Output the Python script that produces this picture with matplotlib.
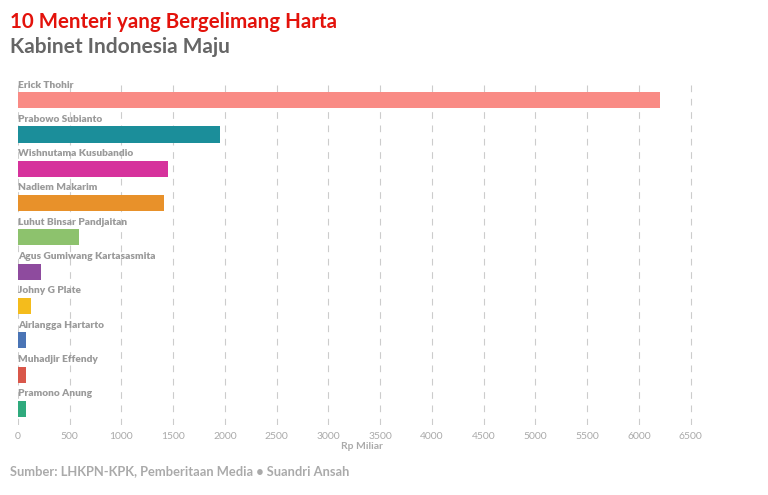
import matplotlib.pyplot as plt

names = ['Erick Thohir', 'Prabowo Subianto', 'Wishnutama Kusubandio', 'Nadiem Makarim',
         'Luhut Binsar Pandjaitan', 'Agus Gumiwang Kartasasmita', 'Johny G Plate',
         'Airlangga Hartarto', 'Muhadjir Effendy', 'Pramono Anung']
values = [6200, 1952, 1449, 1410, 589, 219, 126, 80, 80, 74]
colors = ['#F98B85', '#1B8E9A', '#D6329C', '#E8912A', '#8DC26D',
          '#8E4B9E', '#F4BC1C', '#4A74B5', '#D9574A', '#2FAA7D']
ticks = list(range(0, 7000, 500))

plt.rcParams['font.family'] = ['Lato', 'DejaVu Sans']

fig = plt.figure(figsize=(7.68, 4.95), dpi=100)
ax = fig.add_axes([0.0234, 0.1414, 0.896, 0.6965])

ypos = list(range(len(names)))
ax.barh(ypos, values, height=0.47, color=colors, zorder=2)
for y, n in zip(ypos, names):
    ax.text(0, y - 0.44, n, fontsize=7.3, fontweight='heavy', color='#9a9a9a',
            va='center', ha='left', zorder=3)

ax.set_ylim(9.47, -0.58)
ax.set_xlim(0, 6650)
ax.set_xticks(ticks)
ax.set_xticklabels([str(t) for t in ticks])
ax.tick_params(axis='x', length=0, labelsize=7.5, labelcolor='#aaaaaa', pad=5)
ax.set_yticks([])
for s in ax.spines.values():
    s.set_visible(False)
ax.grid(axis='x', color='#cccccc', linestyle=(0, (6, 6)), linewidth=0.8, zorder=0)
ax.set_xlabel('Rp Miliar', fontsize=7.5, color='#aaaaaa', fontweight='bold', labelpad=1)

fig.text(0.013, 0.956, '10 Menteri yang Bergelimang Harta', fontsize=14.8, fontweight='bold',
         color='#E3120B', va='center')
fig.text(0.013, 0.905, 'Kabinet Indonesia Maju', fontsize=15, fontweight='bold',
         color='#666666', va='center')
fig.text(0.013, 0.048, 'Sumber: LHKPN-KPK, Pemberitaan Media \u2022 Suandri Ansah', fontsize=9.3,
         fontweight='bold', color='#aaaaaa', va='center')

fig.savefig('out.png', dpi=100, facecolor='white')
